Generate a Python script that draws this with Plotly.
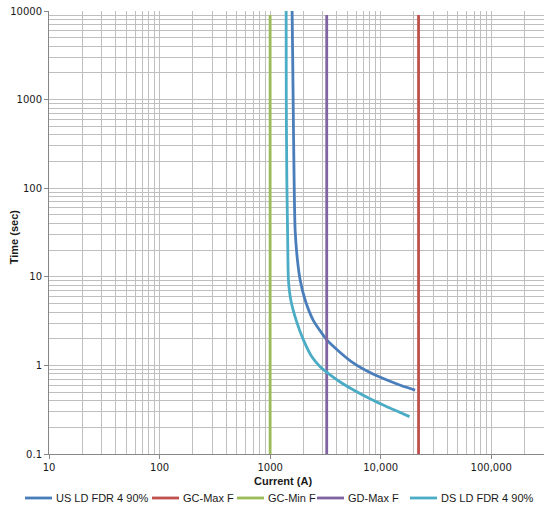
import numpy as np
import plotly.graph_objects as go

# curve data (current in A, time in sec)
us_current = [1560, 1581, 1615, 1648, 1683, 1766, 1869, 2073, 2449, 3260, 4300, 5680, 8000, 11380, 15500, 20500]
us_time = [20000, 10000, 1000, 124, 33.7, 15.5, 9.2, 5.47, 3.25, 1.94, 1.40, 1.06, 0.83, 0.684, 0.59, 0.527]

ds_current = [1390, 1396, 1400, 1416, 1440, 1464, 1538, 1718, 2000, 2385, 2835, 3350, 4300, 5680, 8000, 11380, 14500, 18230]
ds_time = [20000, 10000, 1000, 124, 30, 9.2, 5.47, 3.25, 1.94, 1.25, 0.967, 0.815, 0.65, 0.527, 0.42, 0.342, 0.30, 0.264]

gc_max_current = 22000
gc_min_current = 1000
gd_max_current = 3250
vline_time = [0.1, 9000]

x_tickvals = [10, 100, 1000, 10000, 100000]
x_ticktext = ['10', '100', '1000', '10,000', '100,000']
y_tickvals = [0.1, 1, 10, 100, 1000, 10000]
y_ticktext = ['0.1', '1', '10', '100', '1000', '10000']

names = ['US LD FDR 4 90%', 'GC-Max F', 'GC-Min F', 'GD-Max F', 'DS LD FDR 4 90%']
colors = ['#4A7EBB', '#C0504D', '#9BBB59', '#8064A2', '#4BACC6']

fig = go.Figure()

fig.add_trace(go.Scatter(x=us_current, y=us_time, mode='lines', name=names[0],
                         line=dict(color=colors[0], width=2.8, shape='spline', smoothing=0.6)))
fig.add_trace(go.Scatter(x=[gc_max_current] * 2, y=vline_time, mode='lines', name=names[1],
                         line=dict(color=colors[1], width=2.8)))
fig.add_trace(go.Scatter(x=[gc_min_current] * 2, y=vline_time, mode='lines', name=names[2],
                         line=dict(color=colors[2], width=2.8)))
fig.add_trace(go.Scatter(x=[gd_max_current] * 2, y=vline_time, mode='lines', name=names[3],
                         line=dict(color=colors[3], width=2.8)))
fig.add_trace(go.Scatter(x=ds_current, y=ds_time, mode='lines', name=names[4],
                         line=dict(color=colors[4], width=2.8, shape='spline', smoothing=0.6)))

grid = '#BFBFBF'
tick_font = dict(family='DejaVu Sans', size=10, color='#1a1a1a')
fig.update_xaxes(type='log', range=[1, np.log10(300000)], automargin=False,
                 tickvals=x_tickvals, ticktext=x_ticktext,
                 showgrid=True, gridcolor=grid, gridwidth=1,
                 minor=dict(dtick='D1', showgrid=True, gridcolor=grid, gridwidth=1),
                 showline=True, linecolor='#868686', ticks='outside', ticklen=4, tickcolor='#868686',
                 zeroline=False, tickfont=tick_font, ticklabeloverflow='allow')
fig.update_yaxes(type='log', range=[-1, 4], automargin=False,
                 tickvals=y_tickvals, ticktext=y_ticktext,
                 showgrid=True, gridcolor=grid, gridwidth=1,
                 minor=dict(dtick='D1', showgrid=True, gridcolor=grid, gridwidth=1),
                 showline=True, linecolor='#868686', ticks='outside', ticklen=4, tickcolor='#868686',
                 zeroline=False, tickfont=tick_font, ticklabeloverflow='allow')

# axis titles as annotations so the margins stay put
title_font = dict(family='Liberation Sans', size=11, color='#1a1a1a')
fig.add_annotation(text='<b>Current (A)</b>', xref='paper', yref='paper', x=0.473, y=-0.061,
                   xanchor='center', yanchor='middle', showarrow=False, font=title_font)
fig.add_annotation(text='<b>Time (sec)</b>', xref='paper', yref='paper', x=-0.07, y=0.49,
                   xanchor='center', yanchor='middle', textangle=-90, showarrow=False, font=title_font)

# legend row under the chart, Excel style (short line + label)
plot_w = 495
legend_y = -0.0993
sample_start = [25, 152, 237, 317, 410]  # px from the left edge of the picture
for name, color, px in zip(names, colors, sample_start):
    x0 = (px - 49) / plot_w
    x1 = (px + 27 - 49) / plot_w
    fig.add_shape(type='line', xref='paper', yref='paper', x0=x0, x1=x1, y0=legend_y, y1=legend_y,
                  line=dict(color=color, width=2.8))
    fig.add_annotation(text=name, xref='paper', yref='paper', x=x1 + 1.5 / plot_w, y=legend_y,
                       xanchor='left', yanchor='middle', showarrow=False,
                       font=dict(family='Liberation Sans', size=11, color='#1a1a1a'))

fig.update_layout(
    width=550, height=509,
    margin=dict(l=49, r=6, t=11, b=55),
    plot_bgcolor='white', paper_bgcolor='white',
    showlegend=False,
)

# drop the page's default body margin so the figure sits in the corner
fig.write_html("out.html", config={'displayModeBar': False},
               post_script="document.body.style.margin='0px';")
